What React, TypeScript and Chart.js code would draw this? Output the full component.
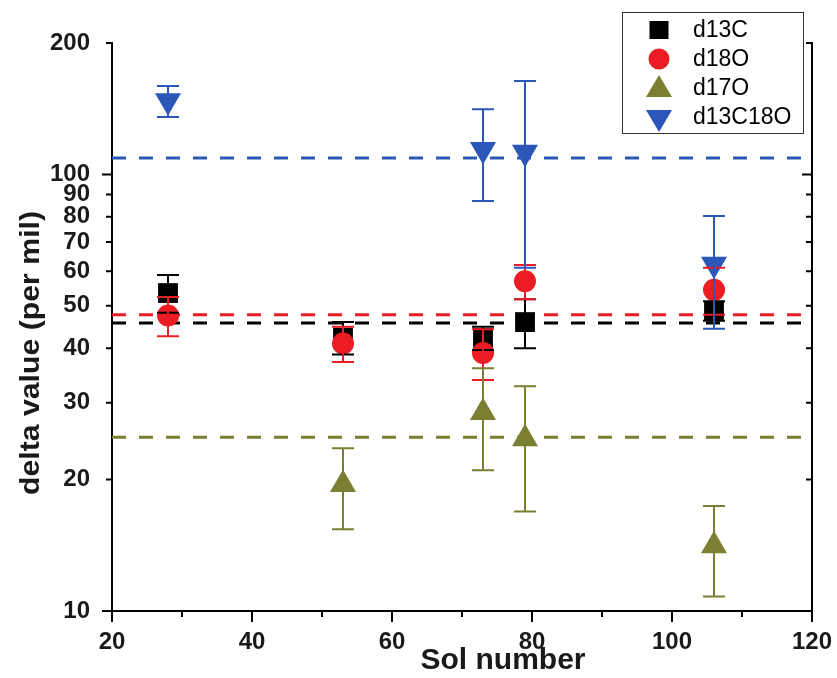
import React, { useEffect, useRef } from "react";
import { Chart, registerables } from "chart.js";

Chart.register(...registerables);

// ---- data ----
const solD13C = [28, 53, 73, 79, 106];
const d13C = [53.5, 42.3, 42.2, 45.9, 48.7];
const d13CErr = [5.3, 3.6, 2.6, 5.9, 2.5];

const solD18O = [28, 53, 73, 79, 106];
const d18O = [47.5, 41.0, 39.0, 56.9, 54.4];
const d18OErr = [4.9, 3.8, 5.2, 5.1, 6.7];

const solD17O = [53, 73, 79, 106];
const d17O = [19.5, 28.5, 24.8, 14.1];
const d17OErr = [4.1, 7.5, 7.9, 3.3];

const solD13C18O = [28, 73, 79, 106];
const d13C18O = [147.4, 114.0, 112.4, 62.3];
const d13C18OErr = [12.0, 27.1, 51.3, 18.0];

const meanD13C = 45.7;
const meanD18O = 47.7;
const meanD17O = 25.0;
const meanD13C18O = 109.0;

const seriesLabels = ["d13C", "d18O", "d17O", "d13C18O"];
const yTickValues = [10, 20, 30, 40, 50, 60, 70, 80, 90, 100, 200];
const yMajorTicks = [10, 100];
const xTickValues = [20, 40, 60, 80, 100, 120];
const xMinorTicks = [30, 50, 70, 90, 110];
const xRange = [20, 120];
const yRange = [10, 200];

const BLACK = "#000000";
const RED = "#ec1c24";
const OLIVE = "#7b7f32";
const BLUE = "#2a57b8";
const FONT = '"Liberation Sans", Arial, sans-serif';

const pts = (xs: number[], ys: number[]) => xs.map((x, i) => ({ x, y: ys[i] }));
const meanLine = (v: number) => [
  { x: xRange[0], y: v },
  { x: xRange[1], y: v },
];

const errorBarPlugin = {
  id: "errorBars",
  afterDatasetsDraw(chart: any) {
    const { ctx } = chart;
    const xs = chart.scales.x;
    const ys = chart.scales.y;
    ctx.save();
    chart.data.datasets.forEach((ds: any) => {
      if (!ds.errors) return;
      ctx.strokeStyle = ds.backgroundColor;
      ctx.lineWidth = 2;
      ds.data.forEach((p: any, j: number) => {
        const e = ds.errors[j];
        const px = xs.getPixelForValue(p.x);
        const top = ys.getPixelForValue(p.y + e);
        const bot = ys.getPixelForValue(p.y - e);
        ctx.beginPath();
        ctx.moveTo(px, top);
        ctx.lineTo(px, bot);
        ctx.moveTo(px - 11, top);
        ctx.lineTo(px + 11, top);
        ctx.moveTo(px - 11, bot);
        ctx.lineTo(px + 11, bot);
        ctx.stroke();
      });
    });
    ctx.restore();
  },
};

function drawMarker(ctx: CanvasRenderingContext2D, style: string, x: number, y: number, color: string) {
  ctx.fillStyle = color;
  ctx.beginPath();
  if (style === "rect") {
    ctx.rect(x - 9.5, y - 9, 19, 18);
  } else if (style === "circle") {
    ctx.arc(x, y, 10.5, 0, Math.PI * 2);
  } else if (style === "up") {
    ctx.moveTo(x, y - 11);
    ctx.lineTo(x + 13, y + 11);
    ctx.lineTo(x - 13, y + 11);
    ctx.closePath();
  } else {
    ctx.moveTo(x - 13, y - 11);
    ctx.lineTo(x + 13, y - 11);
    ctx.lineTo(x, y + 11);
    ctx.closePath();
  }
  ctx.fill();
}

const framePlugin = {
  id: "frame",
  afterDraw(chart: any) {
    const { ctx, chartArea } = chart;
    const xs = chart.scales.x;
    const ys = chart.scales.y;
    const { left, right, top, bottom } = chartArea;
    ctx.save();
    ctx.strokeStyle = "#000";
    ctx.lineWidth = 2;
    // right axis line
    ctx.beginPath();
    ctx.moveTo(right, top - 1);
    ctx.lineTo(right, bottom + 1);
    ctx.stroke();
    // y ticks left (outward) and right (inward)
    yTickValues.forEach((v) => {
      const py = ys.getPixelForValue(v);
      const len = yMajorTicks.includes(v) ? 10 : 6;
      ctx.beginPath();
      ctx.moveTo(left - len, py);
      ctx.lineTo(left, py);
      ctx.moveTo(right - len, py);
      ctx.lineTo(right, py);
      ctx.stroke();
    });
    // x ticks bottom (outward)
    xTickValues.forEach((v) => {
      const px = xs.getPixelForValue(v);
      ctx.beginPath();
      ctx.moveTo(px, bottom);
      ctx.lineTo(px, bottom + 11);
      ctx.stroke();
    });
    xMinorTicks.forEach((v) => {
      const px = xs.getPixelForValue(v);
      ctx.beginPath();
      ctx.moveTo(px, bottom);
      ctx.lineTo(px, bottom + 6);
      ctx.stroke();
    });

    // axis titles
    ctx.fillStyle = "#1a1a1a";
    ctx.textAlign = "center";
    ctx.textBaseline = "middle";
    ctx.font = `bold 30px ${FONT}`;
    ctx.fillText("Sol number", 503, 661);

    ctx.save();
    ctx.translate(30, 353);
    ctx.rotate(-Math.PI / 2);
    ctx.scale(1.08, 1);
    ctx.font = `bold 28px ${FONT}`;
    ctx.fillText("delta value (per mil)", 0, 1);
    ctx.restore();

    // legend
    const bx = 622, by = 12, bw = 181, bh = 121;
    ctx.fillStyle = "#fff";
    ctx.fillRect(bx, by, bw, bh);
    ctx.lineWidth = 1;
    ctx.strokeStyle = "#333";
    ctx.strokeRect(bx + 0.5, by + 0.5, bw, bh);
    const styles = ["rect", "circle", "up", "down"];
    const rowsY = [30, 59, 88, 117];
    const markerY = [30, 59, 86, 121];
    ctx.font = `23px ${FONT}`;
    ctx.textAlign = "left";
    ctx.textBaseline = "middle";
    chart.data.datasets.slice(0, 4).forEach((ds: any, i: number) => {
      drawMarker(ctx, styles[i], 659, markerY[i], ds.backgroundColor);
      ctx.fillStyle = "#000";
      ctx.fillText(ds.label, 693, rowsY[i] + 1);
    });
    ctx.restore();
  },
};

function buildConfig(): any {
  const markerDs = (label: string, xs: number[], ys: number[], errs: number[], color: string, style: string, radius: number, rotation: number, order: number) => ({
    type: "scatter",
    label,
    data: pts(xs, ys),
    errors: errs,
    backgroundColor: color,
    borderColor: color,
    borderWidth: 0,
    pointStyle: style,
    pointRadius: radius,
    pointRotation: rotation,
    pointHoverRadius: radius,
    showLine: false,
    order,
  });
  const lineDs = (label: string, v: number, color: string) => ({
    type: "line",
    label,
    data: meanLine(v),
    borderColor: color,
    backgroundColor: color,
    borderWidth: 3,
    borderDash: [14, 13],
    pointRadius: 0,
    fill: false,
    order: 10,
  });
  return {
    type: "scatter",
    data: {
      datasets: [
        markerDs(seriesLabels[0], solD13C, d13C, d13CErr, BLACK, "rect", 14, 0, 4),
        markerDs(seriesLabels[1], solD18O, d18O, d18OErr, RED, "circle", 11, 0, 3),
        markerDs(seriesLabels[2], solD17O, d17O, d17OErr, OLIVE, "triangle", 15, 0, 2),
        markerDs(seriesLabels[3], solD13C18O, d13C18O, d13C18OErr, BLUE, "triangle", 15, 180, 1),
        lineDs("mean d13C", meanD13C, BLACK),
        lineDs("mean d18O", meanD18O, RED),
        lineDs("mean d17O", meanD17O, OLIVE),
        lineDs("mean d13C18O", meanD13C18O, BLUE),
      ],
    },
    options: {
      responsive: false,
      animation: false,
      events: [],
      layout: { padding: { top: 43, right: 25, left: 0, bottom: 0 } },
      plugins: {
        legend: { display: false },
        tooltip: { enabled: false },
        title: { display: false },
      },
      scales: {
        x: {
          type: "linear",
          min: xRange[0],
          max: xRange[1],
          afterBuildTicks: (s: any) => {
            s.ticks = xTickValues.map((v) => ({ value: v }));
          },
          afterFit: (s: any) => {
            s.height = 67;
            s.paddingLeft = 0;
            s.paddingRight = 0;
          },
          grid: { display: false, drawTicks: false },
          border: { display: true, color: "#000", width: 2 },
          ticks: {
            autoSkip: false,
            maxRotation: 0,
            padding: 17,
            color: "#1a1a1a",
            font: { family: FONT, size: 24, weight: "bold" },
            callback: (v: any) => String(v),
          },
          title: { display: false },
        },
        y: {
          type: "logarithmic",
          min: yRange[0],
          max: yRange[1],
          afterBuildTicks: (s: any) => {
            s.ticks = yTickValues.map((v) => ({ value: v }));
          },
          afterFit: (s: any) => {
            s.width = 112;
            s.paddingTop = 0;
            s.paddingBottom = 0;
          },
          grid: { display: false, drawTicks: false },
          border: { display: true, color: "#000", width: 2 },
          ticks: {
            autoSkip: false,
            padding: 22,
            color: "#1a1a1a",
            font: { family: FONT, size: 24, weight: "bold" },
            callback: (v: any) => String(v),
          },
          title: { display: false },
        },
      },
    },
    plugins: [errorBarPlugin, framePlugin],
  };
}

export default function App() {
  const ref = useRef<HTMLCanvasElement>(null);
  useEffect(() => {
    if (!ref.current) return;
    const chart = new Chart(ref.current, buildConfig());
    return () => chart.destroy();
  }, []);
  return (
    <div style={{ position: "absolute", left: 0, top: 0, width: 837, height: 678, background: "#fff" }}>
      <canvas ref={ref} width={837} height={678} style={{ display: "block", width: 837, height: 678 }} />
    </div>
  );
}
